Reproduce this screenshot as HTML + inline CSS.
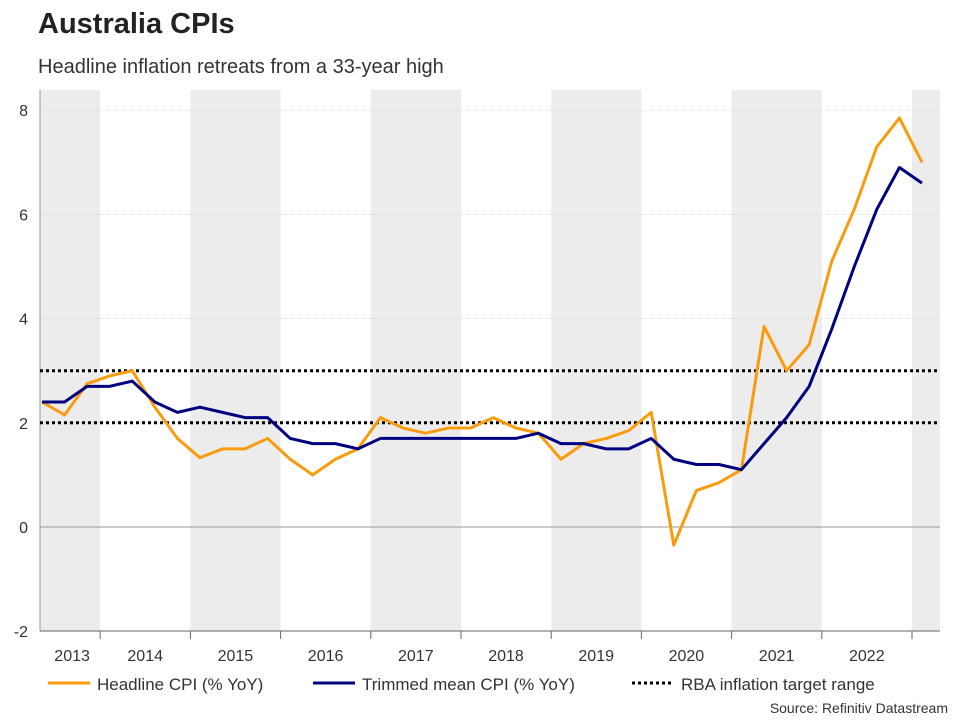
<!DOCTYPE html>
<html><head><meta charset="utf-8"><style>
body{margin:0;background:#fff;font-family:"Liberation Sans",sans-serif;}
svg text{font-family:"Liberation Sans",sans-serif;}
</style></head><body>
<svg width="960" height="720" xmlns="http://www.w3.org/2000/svg">
<text x="38" y="33" font-size="29" font-weight="bold" fill="#222">Australia CPIs</text>
<text x="38" y="73" font-size="20" fill="#333">Headline inflation retreats from a 33-year high</text>
<g id="bands"></g>
<g id="grid"></g>
<g id="axes"></g>
<g id="series"></g>
<g>
<line x1="48" y1="683" x2="90" y2="683" stroke="#f89c0e" stroke-width="3"/>
<text x="97" y="690" font-size="17" fill="#333">Headline CPI (% YoY)</text>
<line x1="313" y1="683" x2="355" y2="683" stroke="#000080" stroke-width="3"/>
<text x="362" y="690" font-size="17" fill="#333">Trimmed mean CPI (% YoY)</text>
<line x1="632" y1="683" x2="674" y2="683" stroke="#000" stroke-width="3" stroke-dasharray="3,3"/>
<text x="681" y="690" font-size="17" fill="#333">RBA inflation target range</text>
</g>
<text x="948" y="713" font-size="14" fill="#333" text-anchor="end">Source: Refinitiv Datastream</text>
</svg>
<script>
const years=[2013,2014,2015,2016,2017,2018,2019,2020,2021,2022];
const yTicks=[-2,0,2,4,6,8];
const headline=[2.4,2.15,2.75,2.9,3.0,2.3,1.7,1.33,1.5,1.5,1.7,1.3,1.0,1.3,1.5,2.1,1.9,1.8,1.9,1.9,2.1,1.9,1.8,1.3,1.6,1.7,1.85,2.2,-0.35,0.7,0.85,1.1,3.85,3.0,3.5,5.1,6.1,7.3,7.85,7.0];
const trimmed=[2.4,2.4,2.7,2.7,2.8,2.4,2.2,2.3,2.2,2.1,2.1,1.7,1.6,1.6,1.5,1.7,1.7,1.7,1.7,1.7,1.7,1.7,1.8,1.6,1.6,1.5,1.5,1.7,1.3,1.2,1.2,1.1,1.6,2.1,2.7,3.8,5.0,6.1,6.9,6.6];
const targetRange=[2,3];
const NS="http://www.w3.org/2000/svg";
const L=40,R=940,T=90,B=631;
const y=v=>527-v*52.1;
const x=i=>42+i*(880/(headline.length-1));
const yearX=yr=>10+(yr-2013)*90.2;
function mk(tag,attrs,parent){const e=document.createElementNS(NS,tag);for(const k in attrs)e.setAttribute(k,attrs[k]);document.getElementById(parent).appendChild(e);return e;}
for(let yr=2013;yr<=2023;yr+=2){
 const x0=Math.max(L,yearX(yr)),x1=Math.min(R,yearX(yr+1));
 const r=mk('rect',{x:x0,y:T,width:x1-x0,height:B-T,fill:'#ececec'},'bands');
 
 
}
yTicks.forEach(v=>{
 if(v!==0&&v!==-2){const g=mk('line',{x1:L,x2:R,y1:y(v),y2:y(v),stroke:'#d0d0d0','stroke-width':0.7,'stroke-dasharray':'1,1'},'grid');
 
 }
 const t=mk('text',{x:28,y:y(v)+6,'font-size':16,fill:'#333','text-anchor':'end'},'axes');t.textContent=v;
 
 
});
const z=mk('line',{x1:L,x2:R,y1:y(0),y2:y(0),stroke:'#999','stroke-width':1},'axes');


const ya=mk('line',{x1:L,x2:L,y1:T,y2:B,stroke:'#999','stroke-width':1},'axes');


const xa=mk('line',{x1:L,x2:R,y1:B,y2:B,stroke:'#666','stroke-width':1},'axes');


years.forEach(yr=>{
 const bx=yearX(yr+1);
 if(bx<R){const tk=mk('line',{x1:bx,x2:bx,y1:B,y2:B+8,stroke:'#666'},'axes');
 
 }
 const cx=yr===2013?(L+yearX(2014))/2+2:yearX(yr)+45;
 const t=mk('text',{x:cx,y:661,'font-size':16,fill:'#333','text-anchor':'middle'},'axes');t.textContent=yr;
 
 
});
targetRange.forEach(v=>{
 const l=mk('line',{x1:L,x2:R,y1:y(v),y2:y(v),stroke:'#000','stroke-width':3,'stroke-dasharray':'3,3'},'series');
 
 
});
function path(d,c,n){
 const p=mk('polyline',{points:d.map((v,i)=>x(i)+','+y(v)).join(' '),fill:'none',stroke:c,'stroke-width':3,'stroke-linejoin':'round'},'series');
 
 
}
path(headline,'#f89c0e','headline-cpi-line');
path(trimmed,'#000080','trimmed-mean-cpi-line');
</script>
</body></html>
